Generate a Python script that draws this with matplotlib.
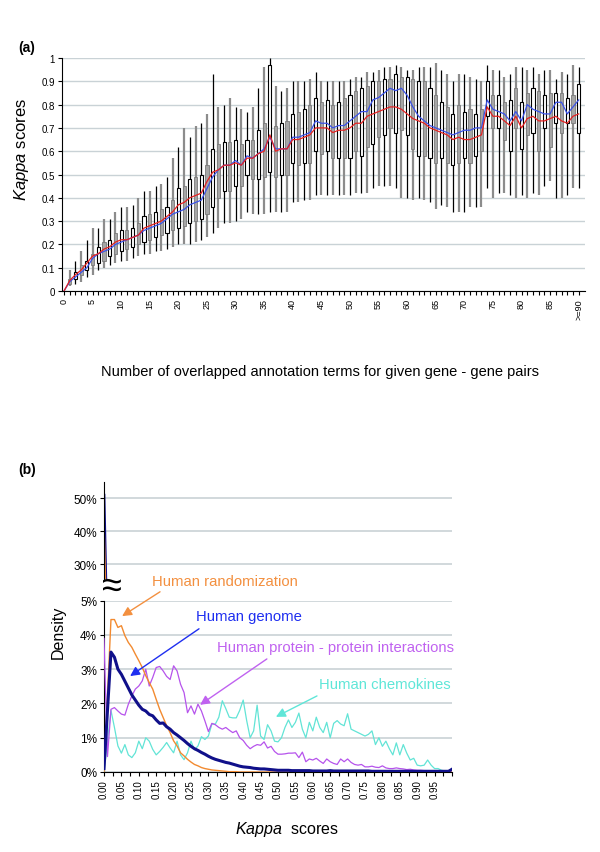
import matplotlib
matplotlib.use('Agg')
import matplotlib.pyplot as plt
import numpy as np

plt.rcParams['font.family'] = ['Liberation Sans', 'DejaVu Sans']
plt.rcParams['mathtext.fontset'] = 'custom'
plt.rcParams['mathtext.rm'] = 'Liberation Sans'
plt.rcParams['mathtext.it'] = 'Liberation Sans:italic'

# ---- panel (a): kappa vs number of overlapped terms ----
overlap = np.arange(91)
overlap_labels = [str(v) for v in range(0, 90, 5)] + ['>=90']

whisker_low = [0, 0.02, 0.03, 0.04, 0.06, 0.07, 0.09, 0.10, 0.11, 0.12,
               0.13, 0.13, 0.14, 0.15, 0.16, 0.16, 0.17, 0.17, 0.18, 0.19,
               0.20, 0.20, 0.20, 0.21, 0.22, 0.23, 0.25, 0.27, 0.29, 0.29,
               0.30, 0.31, 0.34, 0.33, 0.33, 0.33, 0.34, 0.34, 0.34, 0.34,
               0.38, 0.38, 0.39, 0.39, 0.41, 0.41, 0.41, 0.41, 0.41, 0.41,
               0.41, 0.42, 0.42, 0.42, 0.44, 0.45, 0.45, 0.45, 0.44, 0.40,
               0.40, 0.39, 0.40, 0.39, 0.38, 0.35, 0.37, 0.36, 0.34, 0.34,
               0.34, 0.36, 0.36, 0.36, 0.44, 0.40, 0.42, 0.42, 0.41, 0.40,
               0.41, 0.40, 0.42, 0.41, 0.45, 0.47, 0.40, 0.40, 0.41, 0.44,
               0.44]
box_low = [0, 0.03, 0.05, 0.07, 0.09, 0.11, 0.12, 0.13, 0.15, 0.16,
           0.17, 0.18, 0.19, 0.20, 0.21, 0.22, 0.23, 0.24, 0.25, 0.26,
           0.27, 0.28, 0.29, 0.30, 0.31, 0.33, 0.36, 0.40, 0.43, 0.43,
           0.45, 0.45, 0.50, 0.48, 0.48, 0.49, 0.51, 0.49, 0.50, 0.50,
           0.55, 0.54, 0.55, 0.55, 0.60, 0.59, 0.60, 0.57, 0.57, 0.57,
           0.57, 0.60, 0.58, 0.62, 0.63, 0.66, 0.67, 0.70, 0.68, 0.69,
           0.67, 0.61, 0.58, 0.58, 0.57, 0.55, 0.57, 0.55, 0.54, 0.55,
           0.57, 0.55, 0.58, 0.60, 0.75, 0.70, 0.70, 0.65, 0.60, 0.70,
           0.61, 0.67, 0.68, 0.60, 0.70, 0.62, 0.72, 0.68, 0.72, 0.72,
           0.68]
box_high = [0, 0.05, 0.08, 0.11, 0.13, 0.16, 0.19, 0.21, 0.22, 0.25,
            0.26, 0.26, 0.27, 0.29, 0.32, 0.33, 0.34, 0.35, 0.36, 0.39,
            0.44, 0.45, 0.48, 0.49, 0.50, 0.54, 0.61, 0.63, 0.64, 0.64,
            0.65, 0.63, 0.65, 0.65, 0.69, 0.72, 0.97, 0.71, 0.72, 0.73,
            0.76, 0.77, 0.78, 0.80, 0.83, 0.81, 0.82, 0.80, 0.81, 0.83,
            0.84, 0.86, 0.87, 0.88, 0.90, 0.90, 0.91, 0.91, 0.93, 0.92,
            0.92, 0.91, 0.90, 0.90, 0.87, 0.84, 0.81, 0.79, 0.76, 0.80,
            0.77, 0.78, 0.76, 0.78, 0.90, 0.84, 0.84, 0.81, 0.82, 0.87,
            0.81, 0.85, 0.87, 0.86, 0.84, 0.85, 0.85, 0.85, 0.83, 0.84,
            0.89]
whisker_high = [0, 0.09, 0.13, 0.17, 0.22, 0.27, 0.27, 0.31, 0.31, 0.34,
                0.36, 0.36, 0.37, 0.40, 0.43, 0.43, 0.45, 0.46, 0.49, 0.57,
                0.62, 0.70, 0.66, 0.71, 0.72, 0.76, 0.93, 0.79, 0.80, 0.83,
                0.79, 0.78, 0.77, 0.79, 0.87, 0.96, 1.00, 0.88, 0.86, 0.87,
                0.90, 0.90, 0.90, 0.91, 0.94, 0.90, 0.90, 0.90, 0.90, 0.90,
                0.91, 0.92, 0.92, 0.94, 0.94, 0.95, 0.96, 0.96, 0.97, 0.96,
                0.95, 0.95, 0.96, 0.96, 0.96, 0.98, 0.95, 0.93, 0.90, 0.93,
                0.93, 0.92, 0.91, 0.90, 0.97, 0.95, 0.95, 0.92, 0.93, 0.96,
                0.96, 0.95, 0.96, 0.93, 0.95, 0.95, 0.91, 0.94, 0.93, 0.97,
                0.96]
kappa_mean = [0, 0.04, 0.06, 0.08, 0.10, 0.14, 0.16, 0.17, 0.18, 0.20,
              0.21, 0.22, 0.23, 0.24, 0.26, 0.27, 0.28, 0.29, 0.31, 0.33,
              0.34, 0.35, 0.37, 0.38, 0.39, 0.44, 0.49, 0.52, 0.54, 0.54,
              0.56, 0.54, 0.58, 0.57, 0.59, 0.61, 0.66, 0.61, 0.61, 0.61,
              0.66, 0.66, 0.67, 0.68, 0.73, 0.72, 0.72, 0.70, 0.71, 0.71,
              0.73, 0.75, 0.77, 0.77, 0.82, 0.83, 0.85, 0.87, 0.86, 0.87,
              0.84, 0.79, 0.75, 0.73, 0.71, 0.70, 0.69, 0.68, 0.67, 0.68,
              0.69, 0.69, 0.70, 0.70, 0.82, 0.78, 0.77, 0.76, 0.73, 0.77,
              0.73, 0.80, 0.78, 0.77, 0.76, 0.76, 0.81, 0.81, 0.76, 0.79,
              0.82]
kappa_median = [0, 0.045, 0.07, 0.09, 0.12, 0.15, 0.16, 0.18, 0.19, 0.21,
                0.22, 0.22, 0.23, 0.24, 0.27, 0.28, 0.29, 0.30, 0.32, 0.34,
                0.37, 0.38, 0.40, 0.41, 0.42, 0.47, 0.51, 0.52, 0.54, 0.54,
                0.55, 0.54, 0.57, 0.57, 0.59, 0.60, 0.67, 0.60, 0.61, 0.61,
                0.65, 0.65, 0.66, 0.67, 0.70, 0.70, 0.70, 0.68, 0.69, 0.69,
                0.70, 0.72, 0.72, 0.75, 0.76, 0.77, 0.78, 0.79, 0.79, 0.78,
                0.76, 0.74, 0.73, 0.72, 0.70, 0.69, 0.68, 0.67, 0.65, 0.66,
                0.65, 0.65, 0.66, 0.67, 0.79, 0.75, 0.75, 0.73, 0.71, 0.75,
                0.70, 0.74, 0.75, 0.73, 0.73, 0.74, 0.75, 0.73, 0.72, 0.75,
                0.76]

# ---- panel (b): density of kappa scores (%) ----
kappa_bins = np.round(np.arange(101) * 0.01, 2)
genome_peak = 51.0
random_peak = 43.0
genome = [0.1, 1.8, 3.5, 3.35, 3.0, 2.85, 2.65, 2.45, 2.25, 2.1,
          1.95, 1.83, 1.78, 1.68, 1.64, 1.52, 1.42, 1.43, 1.32, 1.25,
          1.15, 1.08, 1.0, 0.92, 0.83, 0.75, 0.68, 0.63, 0.57, 0.52,
          0.46, 0.41, 0.37, 0.34, 0.31, 0.28, 0.26, 0.23, 0.2, 0.17,
          0.15, 0.14, 0.13, 0.11, 0.1, 0.09, 0.09, 0.08, 0.07, 0.06,
          0.05, 0.05, 0.05, 0.05, 0.04, 0.04, 0.04, 0.04, 0.04, 0.04,
          0.03, 0.03, 0.03, 0.03, 0.03, 0.04, 0.03, 0.03, 0.03, 0.03,
          0.03, 0.03, 0.03, 0.03, 0.03, 0.03, 0.03, 0.02, 0.02, 0.02,
          0.02, 0.02, 0.02, 0.02, 0.02, 0.02, 0.02, 0.02, 0.02, 0.02,
          0.02, 0.02, 0.02, 0.02, 0.02, 0.02, 0.02, 0.02, 0.02, 0.02,
          0.08]
randomized = [0.0, 2.2, 4.45, 4.45, 4.22, 4.27, 3.98, 3.78, 3.64, 3.44,
              3.25, 3.05, 2.81, 2.61, 2.42, 2.12, 1.83, 1.59, 1.35, 1.15,
              0.91, 0.76, 0.56, 0.47, 0.37, 0.29, 0.22, 0.18, 0.13, 0.1,
              0.08, 0.06, 0.05, 0.04, 0.03, 0.02, 0.01, 0.01, 0.01, 0.0,
              0, 0, 0, 0, 0, 0, 0, 0, 0, 0,
              0, 0, 0, 0, 0, 0, 0, 0, 0, 0,
              0, 0, 0, 0, 0, 0, 0, 0, 0, 0,
              0, 0, 0, 0, 0, 0, 0, 0, 0, 0,
              0, 0, 0, 0, 0, 0, 0, 0, 0, 0,
              0, 0, 0, 0, 0, 0, 0, 0, 0, 0,
              0]
ppi = [3.9, 0.45, 1.83, 1.88, 1.78, 1.69, 1.66, 1.98, 2.22, 2.42,
       2.51, 2.66, 3.0, 2.51, 2.76, 3.05, 3.08, 2.95, 2.79, 2.7,
       3.1, 2.95, 2.56, 2.32, 1.73, 1.93, 1.69, 1.98, 1.78, 1.49,
       1.18, 1.42, 1.38, 1.3, 1.25, 1.3, 1.22, 1.15, 1.2, 1.0,
       0.92, 0.78, 0.68, 0.75, 0.8, 0.78, 0.88, 0.7, 0.75, 0.6,
       0.52, 0.52, 0.53, 0.55, 0.55, 0.56, 0.42, 0.58, 0.3, 0.38,
       0.35, 0.4, 0.32, 0.25, 0.38, 0.3, 0.25, 0.22, 0.38, 0.3,
       0.38, 0.28, 0.22, 0.2, 0.22, 0.15, 0.15, 0.17, 0.14, 0.13,
       0.18, 0.12, 0.1, 0.1, 0.12, 0.1, 0.09, 0.07, 0.08, 0.06,
       0.05, 0.05, 0.04, 0.04, 0.03, 0.03, 0.02, 0.02, 0.02, 0.01,
       0.01]
chemokines = [0.0, 0.9, 1.8, 1.3, 0.76, 0.55, 0.8, 0.5, 0.42, 0.56,
              0.9, 0.68, 1.0, 0.9, 0.66, 0.5, 0.6, 0.72, 0.86, 0.7,
              0.56, 0.9, 0.5, 0.36, 0.56, 0.9, 0.65, 0.76, 1.03, 0.95,
              1.05, 1.4, 1.4, 1.6, 2.08, 1.85, 1.6, 1.58, 1.58, 1.8,
              2.1, 1.5, 1.0, 1.2, 1.95, 1.05, 0.95, 1.38, 1.2, 0.9,
              0.88, 1.0, 1.3, 1.52, 1.3, 1.45, 1.72, 1.25, 1.0, 1.45,
              1.2, 1.6, 1.3, 1.15, 1.45, 1.0, 1.42, 1.5, 1.4, 1.35,
              1.7, 1.25, 1.2, 1.15, 1.1, 1.05, 1.1, 1.2, 0.8, 1.0,
              0.75, 0.9, 0.68, 0.5, 0.85, 0.5, 0.8, 0.55, 0.35, 0.4,
              0.2, 0.18, 0.2, 0.35, 0.2, 0.1, 0.1, 0.05, 0.03, 0.02,
              0.01]

W, H = 600, 853
fig = plt.figure(figsize=(W / 100, H / 100), dpi=100)
grid_color = '#c9d2d6'


def frac(x0, y0, x1, y1):
    # pixel box (left, top, right, bottom) -> figure fraction rect
    return [x0 / W, 1 - y1 / H, (x1 - x0) / W, (y1 - y0) / H]


# ---------------- (a) ----------------
ax = fig.add_axes(frac(62, 59, 585, 292))
wl = np.array(whisker_low)
bl = np.array(box_low)
bh = np.array(box_high)
wh = np.array(whisker_high)
even = overlap % 2 == 0
odd = ~even
ax.vlines(overlap[odd], wl[odd], wh[odd], color='#8c8c8c', lw=1.6, zorder=2)
ax.bar(overlap[odd], bh[odd] - bl[odd], bottom=bl[odd], width=0.55,
       facecolor='#a6a6a6', edgecolor='#7a7a7a', lw=0.6, zorder=3)
ax.vlines(overlap[even], wl[even], wh[even], color='black', lw=0.9, zorder=2)
ax.bar(overlap[even], bh[even] - bl[even], bottom=bl[even], width=0.55,
       facecolor='white', edgecolor='black', lw=0.8, zorder=3)
ax.plot(overlap, kappa_mean, color='#3b52e8', lw=0.9, zorder=4)
ax.plot(overlap, kappa_median, color='#e52222', lw=0.9, zorder=4)

ax.set_xlim(-0.35, 91.1)
ax.set_ylim(0, 1)
ax.set_xticks(np.arange(0, 91, 5))
ax.set_xticklabels(overlap_labels, rotation=90, fontsize=6.5)
ax.set_xticks(overlap, minor=True)
ax.set_yticks(np.arange(0, 1.01, 0.1))
ax.set_yticklabels(['0'] + ['%.1f' % v for v in np.arange(0.1, 0.95, 0.1)] + ['1'],
                   fontsize=7)
ax.tick_params(axis='both', which='both', length=3, width=0.8, pad=2)
ax.yaxis.grid(True, color=grid_color, lw=1)
ax.set_axisbelow(True)
for s in ['top', 'right']:
    ax.spines[s].set_visible(False)

fig.text(18 / W, 1 - 48 / H, '(a)', fontsize=10, fontweight='bold', va='center')
fig.text(22 / W, 1 - 150 / H, r'$\mathit{Kappa}$ scores', fontsize=12,
         rotation=90, ha='center', va='center')
fig.text(320 / W, 1 - 372 / H,
         'Number of overlapped annotation terms for given gene - gene pairs',
         fontsize=10.5, ha='center', va='center')

# ---------------- (b) ----------------
fig.text(18 / W, 1 - 470 / H, '(b)', fontsize=10, fontweight='bold', va='center')

axu = fig.add_axes(frac(104, 483, 452, 580))
axb = fig.add_axes(frac(104, 601.7, 452, 773))

c_gen, c_rnd, c_ppi, c_chem = '#10108a', '#f28a30', '#b653ec', '#62e4d6'

axu.plot(kappa_bins, [genome_peak] + genome[1:], color=c_gen, lw=2)
axu.plot(kappa_bins, [random_peak] + randomized[1:], color=c_rnd, lw=1)
axu.set_xlim(0, 1)
axu.set_ylim(25.6, 55)
axu.set_yticks([30, 40, 50])
axu.set_yticklabels(['30%', '40%', '50%'], fontsize=8.5)
axu.set_xticks([])
axu.yaxis.grid(True, color=grid_color, lw=1.2)
axu.set_axisbelow(True)
for s in ['top', 'right', 'bottom']:
    axu.spines[s].set_visible(False)
axu.tick_params(axis='y', length=3, pad=2)
fig.text(112 / W, 1 - 587 / H, '\u2248', fontsize=26, ha='center', va='center')

axb.plot(kappa_bins, chemokines, color=c_chem, lw=0.9, zorder=3)
axb.plot(kappa_bins, ppi, color=c_ppi, lw=0.9, zorder=3)
axb.plot(kappa_bins, randomized, color=c_rnd, lw=1, zorder=3)
axb.plot(kappa_bins, genome, color=c_gen, lw=2.2, zorder=4)
axb.set_xlim(0, 1)
axb.set_ylim(0, 5)
axb.set_yticks(range(6))
axb.set_yticklabels(['%d%%' % v for v in range(6)], fontsize=8.5)
axb.set_xticks(np.arange(0, 0.96, 0.05))
axb.set_xticklabels(['%.2f' % v for v in np.arange(0, 0.96, 0.05)],
                    rotation=90, fontsize=7)
axb.set_xticks(np.arange(0, 1.001, 0.025), minor=True)
axb.tick_params(axis='both', which='both', length=3, width=0.8, pad=2)
axb.yaxis.grid(True, color=grid_color, lw=1.2)
axb.set_axisbelow(True)
for s in ['top', 'right']:
    axb.spines[s].set_visible(False)

fig.text(58 / W, 1 - 632 / H, 'Density', fontsize=11.5, rotation=90,
         ha='center', va='center')
fig.text(287 / W, 1 - 830 / H, r'$\mathit{Kappa}$  scores', fontsize=11.5,
         ha='center', va='center')

# annotations: (label, colour, text pos, arrow tail, arrow head) in data units
notes = [
    ('Human randomization', '#f39040', (0.348, 5.58), (0.161, 5.26), (0.052, 4.55)),
    ('Human genome', '#1f2ff0', (0.417, 4.55), (0.273, 4.18), (0.075, 2.80)),
    ('Human protein - protein interactions', '#c062f0', (0.665, 3.65), (0.468, 3.30), (0.276, 1.96)),
    ('Human chemokines', '#5fe6d8', (0.807, 2.57), (0.612, 2.22), (0.494, 1.61)),
]
for label, col, tpos, tail, head in notes:
    axb.text(tpos[0], tpos[1], label, color=col, fontsize=10.7,
             ha='center', va='center', clip_on=False, zorder=6,
             bbox=dict(facecolor='white', edgecolor='none', pad=0.5))
    axb.annotate('', xy=head, xytext=tail, annotation_clip=False, zorder=6,
                 arrowprops=dict(arrowstyle='-|>', color=col, lw=1,
                                 mutation_scale=14, shrinkA=0, shrinkB=0))

fig.savefig('out.png', dpi=100)
